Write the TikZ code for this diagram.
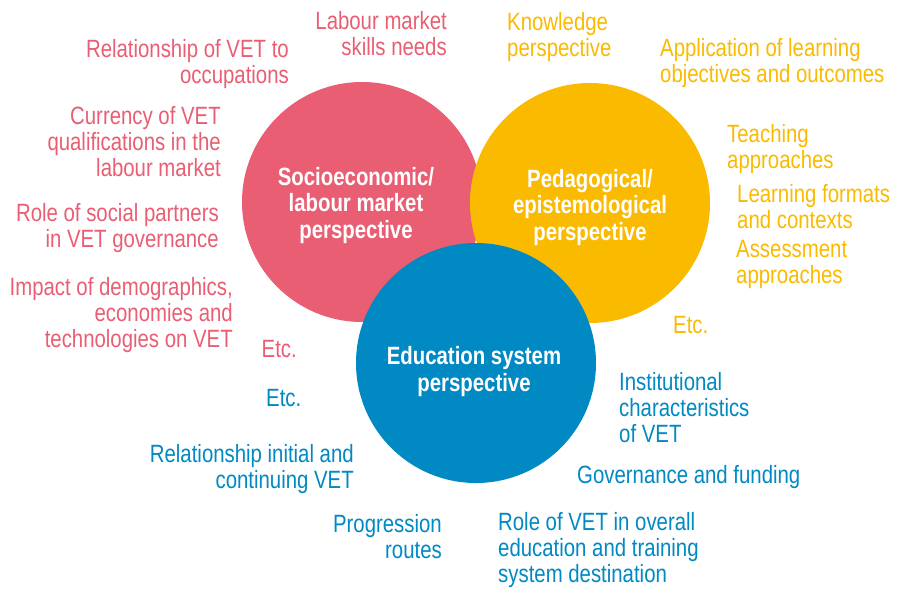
\documentclass[tikz,border=0pt]{standalone}
\usepackage{fontspec}
\setmainfont[FakeStretch=0.815]{Liberation Sans}
\definecolor{se_red}{RGB}{233, 94, 115}
\definecolor{pe_yellow}{RGB}{250, 186, 0}
\definecolor{es_blue}{RGB}{0, 137, 194}
\tikzstyle{circ}=[circle,draw=none,inner sep=0pt,minimum size=240pt]
\tikzstyle{rc}=[circ,fill=se_red]
\tikzstyle{yc}=[circ,fill=pe_yellow]
\tikzstyle{bc}=[circ,fill=es_blue]
\tikzstyle{lbl}=[inner sep=0pt,font=\fontsize{25}{26}\selectfont]
\tikzstyle{rt}=[lbl,text=se_red,align=right,anchor=base east]
\tikzstyle{yt}=[lbl,text=pe_yellow,align=left,anchor=base west]
\tikzstyle{btl}=[lbl,text=es_blue,align=right,anchor=base east]
\tikzstyle{btr}=[lbl,text=es_blue,align=left,anchor=base west]
\tikzstyle{head}=[inner sep=0pt,text=white,align=center,anchor=base,
  font=\bfseries\fontsize{25}{26.5}\selectfont]

\begin{document}
\begin{tikzpicture}[x=1pt,y=-1pt]
        \useasboundingbox (0,0) rectangle (899,589);
        % the three perspectives (positions give the last baseline)
        \node[style=rc] (red) at (362,202) {};
        \node[style=yc] (yel) at (590,203) {};
        \node[style=bc] (blu) at (476,363) {};
        \node[style=head] (redh) at (356,238) {Socioeconomic/\\labour market\\perspective};
        \node[style=head] (yelh) at (590,240) {Pedagogical/\\epistemological\\perspective};
        \node[style=head] (bluh) at (474,391) {Education system\\perspective};
        % socioeconomic aspects
        \node[style=rt] (r1) at (447,55) {Labour market\\skills needs};
        \node[style=rt] (r2) at (289,83) {Relationship of VET to\\occupations};
        \node[style=rt] (r3) at (221,176) {Currency of VET\\qualifications in the\\labour market};
        \node[style=rt] (r4) at (219,247) {Role of social partners\\in VET governance};
        \node[style=rt] (r5) at (233,347) {Impact of demographics,\\economies and\\technologies on VET};
        \node[style=rt] (r6) at (297,357) {Etc.};
        % pedagogical aspects
        \node[style=yt] (y1) at (507,56) {Knowledge\\perspective};
        \node[style=yt] (y2) at (660,82) {Application of learning\\objectives and outcomes};
        \node[style=yt] (y3) at (727,168) {Teaching\\approaches};
        \node[style=yt] (y4) at (737,228) {Learning formats\\and contexts};
        \node[style=yt] (y5) at (736,283) {Assessment\\approaches};
        \node[style=yt] (y6) at (673,333) {Etc.};
        % education system aspects
        \node[style=btr] (b1) at (266,406) {Etc.};
        \node[style=btl] (b2) at (354,488) {Relationship initial and\\continuing VET};
        \node[style=btr] (b3) at (619,442) {Institutional\\characteristics\\of VET};
        \node[style=btr] (b4) at (577,483) {Governance and funding};
        \node[style=btl] (b5) at (442,558) {Progression\\routes};
        \node[style=btr] (b6) at (498,582) {Role of VET in overall\\education and training\\system destination};
    \end{tikzpicture}
\end{document}
